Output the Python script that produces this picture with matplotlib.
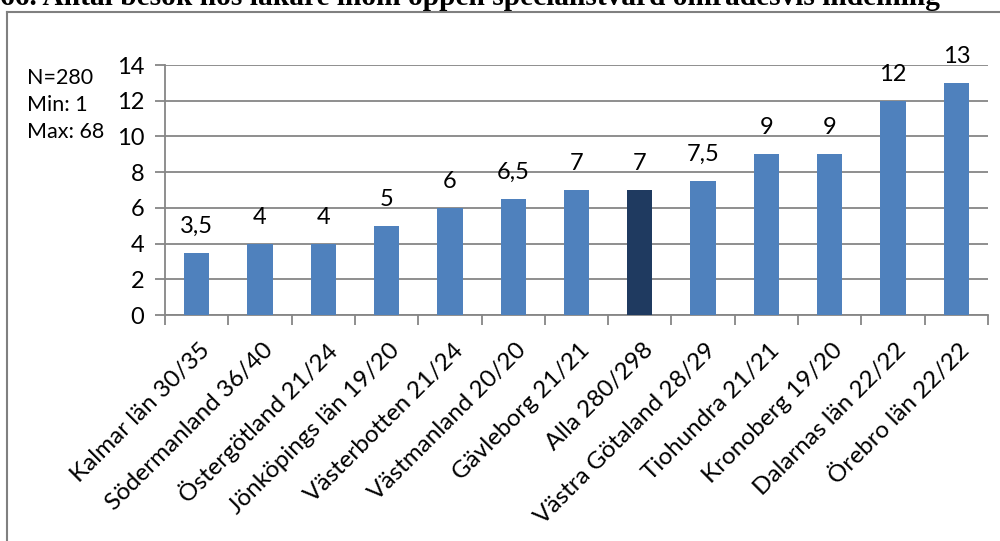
import matplotlib
matplotlib.use("Agg")
import matplotlib.pyplot as plt
from matplotlib.lines import Line2D

categories = ["Kalmar län 30/35", "Södermanland 36/40", "Östergötland 21/24",
              "Jönköpings län 19/20", "Västerbotten 21/24", "Västmanland 20/20",
              "Gävleborg 21/21", "Alla 280/298", "Västra Götaland 28/29",
              "Tiohundra 21/21", "Kronoberg 19/20", "Dalarnas län 22/22",
              "Örebro län 22/22"]
values = [3.5, 4, 4, 5, 6, 6.5, 7, 7, 7.5, 9, 9, 12, 13]
value_labels = ["3,5", "4", "4", "5", "6", "6,5", "7", "7", "7,5", "9", "9", "12", "13"]
highlight = "Alla 280/298"
title = "66. Antal besök hos läkare inom öppen specialistvård områdesvis indelning"
stats_text = "N=280\nMin: 1\nMax: 68"

plt.rcParams['font.family'] = ['Lato', 'DejaVu Sans']

fig = plt.figure(figsize=(10, 5.41), dpi=100)
W, H = 1000, 541

ax = fig.add_axes([165 / W, 1 - 315 / H, (988 - 165) / W, (315 - 65) / H])

base_col = "#4F81BD"
dark_col = "#1F3A60"
grid_col = "#868686"

x = range(len(categories))
colors = [dark_col if c == highlight else base_col for c in categories]
ax.bar(x, values, width=0.4, color=colors, zorder=3)

ax.set_xlim(-0.5, len(categories) - 0.5)
ax.set_ylim(0, 14)
ax.set_yticks(range(0, 15, 2))
ax.yaxis.grid(True, color=grid_col, linewidth=1.3, zorder=0)

for s in ["top", "right"]:
    ax.spines[s].set_visible(False)
for s in ["left", "bottom"]:
    ax.spines[s].set_color(grid_col)
    ax.spines[s].set_linewidth(1.3)

ax.tick_params(axis="y", length=7, width=1.3, color=grid_col, labelsize=17, pad=8)
ax.set_xticks([i - 0.5 for i in range(len(categories) + 1)], minor=False)
ax.set_xticklabels([])
ax.tick_params(axis="x", length=7, width=1.3, color=grid_col)

for i, c in enumerate(categories):
    ax.annotate(c, xy=(i, 0), xytext=(7, -23), textcoords="offset points",
                rotation=45, rotation_mode="anchor", ha="right", va="center",
                fontsize=17.5)

for i, (v, lab) in enumerate(zip(values, value_labels)):
    ax.annotate(lab, xy=(i, v), xytext=(0, 19), textcoords="offset points",
                ha="center", va="center", fontsize=17)

fig.text(27 / W, 1 - 68 / H, stats_text, ha="left", va="top", fontsize=15.5,
         linespacing=1.45)

fig.text(0 / W, 1 - 5 / H, title, ha="left", va="baseline", fontsize=21.2,
         fontweight="bold", family=["Liberation Serif", "DejaVu Serif"])

# surrounding frame
fig.add_artist(Line2D([7 / W, 7 / W], [0, 1 - 12 / H], transform=fig.transFigure,
                      color="#808080", linewidth=1.5))
fig.add_artist(Line2D([7 / W, 1], [1 - 12 / H, 1 - 12 / H], transform=fig.transFigure,
                      color="#808080", linewidth=1.5))

fig.savefig("out.png", dpi=100)
